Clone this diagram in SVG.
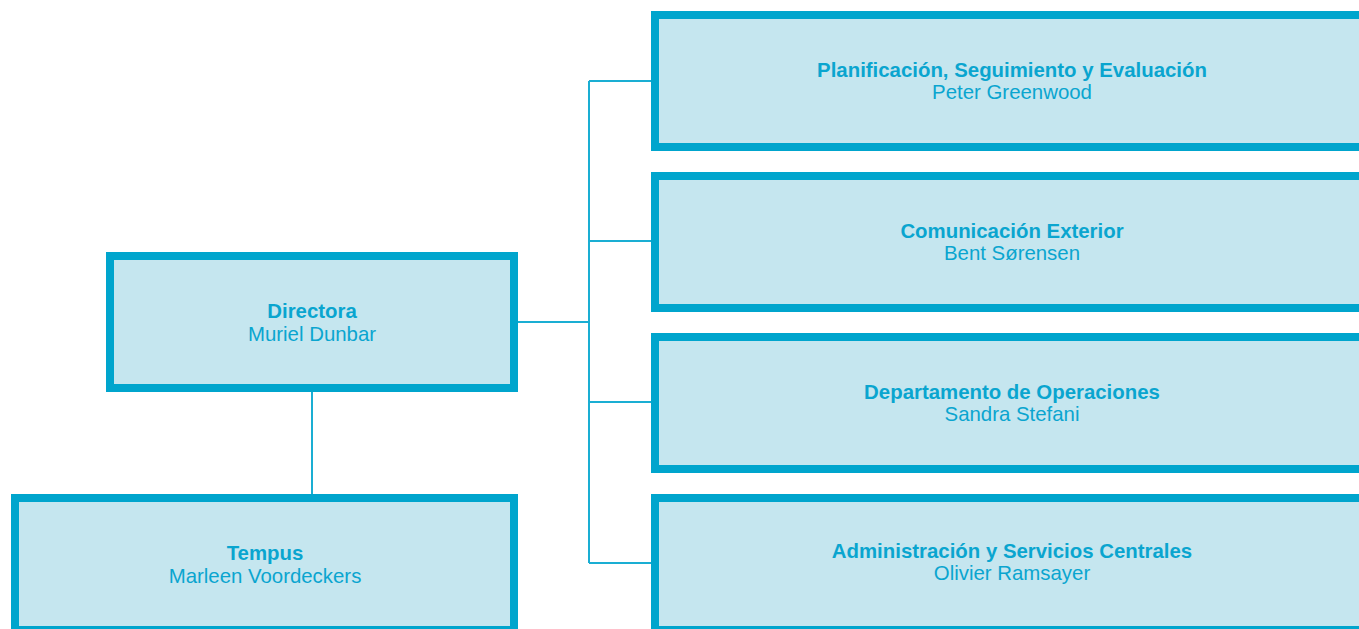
<svg xmlns="http://www.w3.org/2000/svg" width="1359" height="629" viewBox="0 0 1359 629">
  <style>
    .box { fill: #c5e6ef; stroke: #00a5cd; stroke-width: 8; }
    .link { fill: none; stroke: #1aaed3; stroke-width: 2; }
    .title { font-family: "Liberation Sans", Arial, sans-serif; font-size: 20.4px; font-weight: bold; fill: #0aa5cf; text-anchor: middle; }
    .name { font-family: "Liberation Sans", Arial, sans-serif; font-size: 20.4px; fill: #0aa5cf; text-anchor: middle; }
  </style>
  <rect width="1359" height="629" fill="#ffffff"/>

  <g id="connectors">
    <path class="link" d="M518 322 H589"/>
    <path class="link" d="M589 81 V563"/>
    <path class="link" d="M589 81 H651 M589 241 H651 M589 402 H651 M589 563 H651"/>
    <path class="link" d="M312 392 V494"/>
  </g>

  <g id="directora">
    <rect class="box" x="110" y="256" width="404" height="132"/>
    <text class="title" x="312" y="318">Directora</text>
    <text class="name" x="312" y="341">Muriel Dunbar</text>
  </g>

  <g id="tempus">
    <rect class="box" x="15" y="498" width="499" height="132"/>
    <text class="title" x="265" y="560">Tempus</text>
    <text class="name" x="265" y="583">Marleen Voordeckers</text>
  </g>

  <g id="planificacion">
    <rect class="box" x="655" y="15" width="714" height="132"/>
    <text class="title" x="1012" y="77">Planificación, Seguimiento y Evaluación</text>
    <text class="name" x="1012" y="99">Peter Greenwood</text>
  </g>

  <g id="comunicacion">
    <rect class="box" x="655" y="176" width="714" height="132"/>
    <text class="title" x="1012" y="238">Comunicación Exterior</text>
    <text class="name" x="1012" y="260">Bent Sørensen</text>
  </g>

  <g id="operaciones">
    <rect class="box" x="655" y="337" width="714" height="132"/>
    <text class="title" x="1012" y="399">Departamento de Operaciones</text>
    <text class="name" x="1012" y="421">Sandra Stefani</text>
  </g>

  <g id="administracion">
    <rect class="box" x="655" y="498" width="714" height="132"/>
    <text class="title" x="1012" y="558">Administración y Servicios Centrales</text>
    <text class="name" x="1012" y="580">Olivier Ramsayer</text>
  </g>
</svg>
